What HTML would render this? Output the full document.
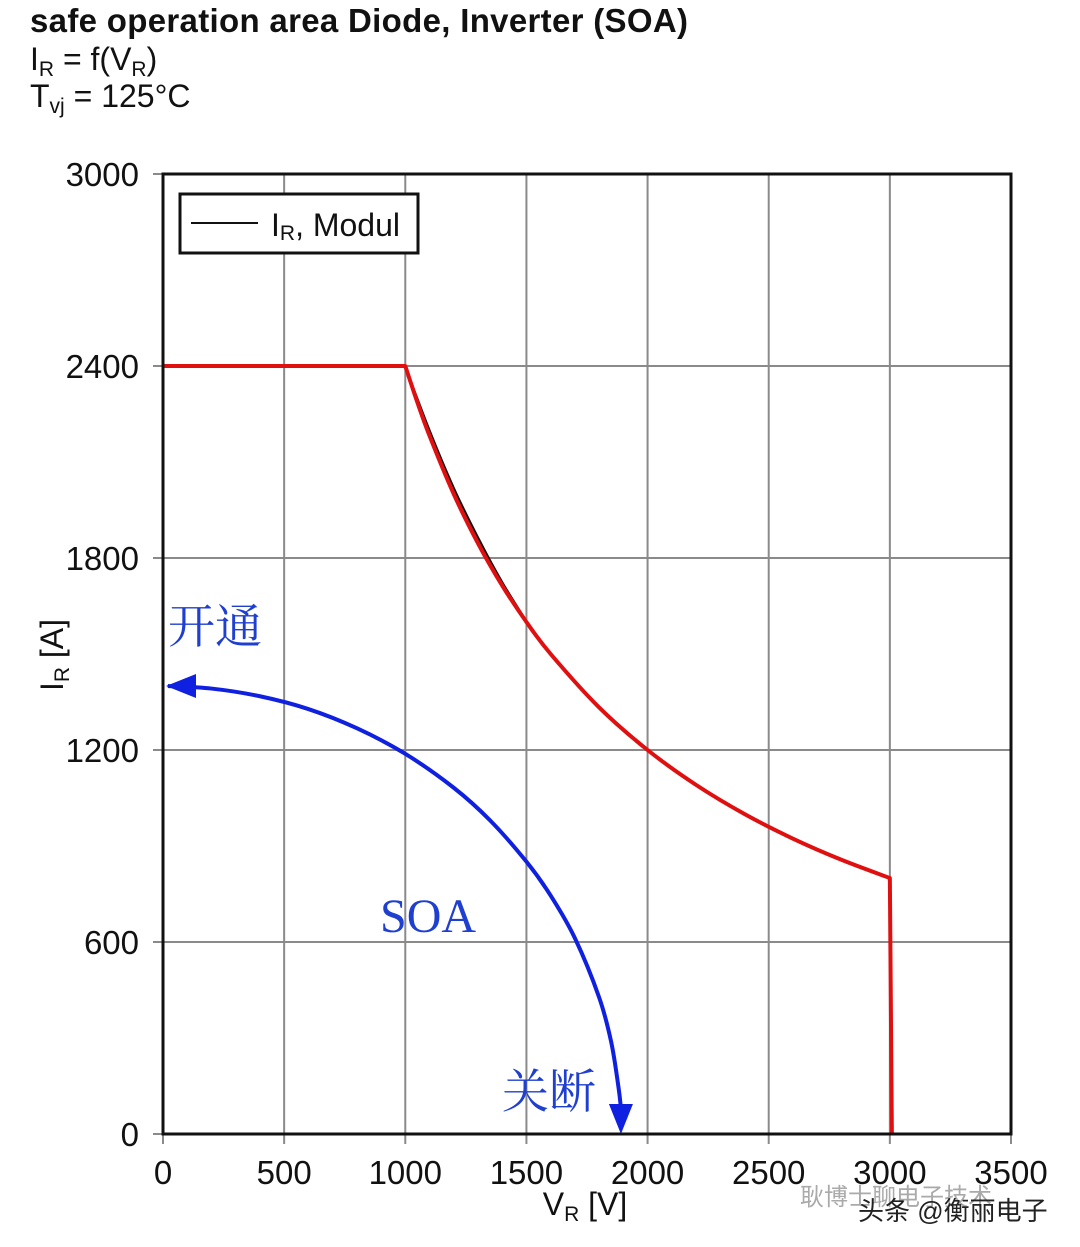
<!DOCTYPE html>
<html><head><meta charset="utf-8">
<style>
html,body{margin:0;padding:0;background:#fff;}
svg{display:block;}
.t{font-family:"Liberation Sans",Arial,sans-serif;fill:#111;}
.cn{font-family:"Liberation Serif","Noto Serif CJK SC",serif;fill:#1f3fd0;}
</style></head>
<body>
<svg id="chart" width="1080" height="1247" viewBox="0 0 1080 1247" xmlns="http://www.w3.org/2000/svg">
<text class="t" x="30" y="32" font-size="33" font-weight="bold" textLength="658">safe operation area Diode, Inverter (SOA)</text>
<text class="t" x="30" y="70" font-size="32">I<tspan font-size="21" dy="6">R</tspan><tspan dy="-6"> = f(V</tspan><tspan font-size="21" dy="6">R</tspan><tspan dy="-6">)</tspan></text>
<text class="t" x="30" y="107" font-size="32">T<tspan font-size="21" dy="6">vj</tspan><tspan dy="-6"> = 125°C</tspan></text>
<g id="grid"></g>
<g id="ticks"></g>
<g id="series"></g>
<rect x="163" y="174" width="848" height="960" fill="none" stroke="#111" stroke-width="3"/>
<g>
<rect x="180" y="194" width="238" height="59" fill="#fff" stroke="#111" stroke-width="3"/>
<line x1="191" y1="223" x2="258" y2="223" stroke="#111" stroke-width="2"/>
<text class="t" x="271" y="236" font-size="32">I<tspan font-size="21" dy="4">R</tspan><tspan dy="-4">, Modul</tspan></text>
</g>
<text class="t" transform="translate(63,655) rotate(-90)" text-anchor="middle" font-size="32">I<tspan font-size="21" dy="6">R</tspan><tspan dy="-6"> [A]</tspan></text>
<text class="t" x="585" y="1215" text-anchor="middle" font-size="32">V<tspan font-size="21" dy="6">R</tspan><tspan dy="-6"> [V]</tspan></text>
<text class="cn" x="168" y="643" font-size="47">开通</text>
<text class="cn" x="380" y="932" font-size="48">SOA</text>
<text class="cn" x="502" y="1108" font-size="47">关断</text>
<text x="800" y="1205" font-size="24" fill="#aaa" font-family="'Liberation Sans','Noto Sans CJK SC',sans-serif">耿博士聊电子技术</text>
<text x="858" y="1220" font-size="26" fill="#222" font-family="'Liberation Sans','Noto Sans CJK SC',sans-serif">头条 @衡丽电子</text>
</svg>
<script>
const xTicks=[0,500,1000,1500,2000,2500,3000,3500];
const yTicks=[0,600,1200,1800,2400,3000];
const redV=[0,1000,1050,1100,1200,1300,1400,1500,1600,1800,2000,2200,2400,2600,2800,3000,3000];
const redI=[2400,2400,2286,2182,2000,1846,1714,1600,1500,1333,1200,1091,1000,923,857,800,0];
const blackV=[1000,1100,1200,1300,1400,1500];
const blackI=[2400,2200,2020,1865,1725,1603];
const blueV=[1890,1880,1850,1800,1700,1600,1500,1350,1200,1000,800,600,400,200,20];
const blueI=[0,146,287,427,612,745,851,980,1082,1188,1268,1328,1368,1392,1400];
const NS="http://www.w3.org/2000/svg";
function xs(v){return 163+v*848/3500;}
function ys(i){return 1134-i*960/3000;}
function mk(tag,attrs,parent){const e=document.createElementNS(NS,tag);for(const k in attrs)e.setAttribute(k,attrs[k]);parent.appendChild(e);return e;}
const grid=document.getElementById('grid'),ticks=document.getElementById('ticks'),series=document.getElementById('series');
xTicks.forEach(v=>{
 const l=mk('line',{x1:xs(v),x2:xs(v),y1:174,y2:1144,stroke:'#8a8a8a','stroke-width':2},grid);
 
 
 const t=mk('text',{x:xs(v),y:1184,'text-anchor':'middle','font-size':33,class:'t'},ticks);
 t.textContent=v;
 
 
});
yTicks.forEach(i=>{
 const l=mk('line',{x1:153,x2:1011,y1:ys(i),y2:ys(i),stroke:'#8a8a8a','stroke-width':2},grid);
 
 
 const t=mk('text',{x:139,y:ys(i)+12,'text-anchor':'end','font-size':33,class:'t'},ticks);
 t.textContent=i;
 
 
});
// Catmull-Rom smoothed path between index a..b
function smooth(P){
 let d='M'+P[0][0]+','+P[0][1];
 for(let k=0;k<P.length-1;k++){
  const p0=P[Math.max(k-1,0)],p1=P[k],p2=P[k+1],p3=P[Math.min(k+2,P.length-1)];
  const c1=[p1[0]+(p2[0]-p0[0])/6,p1[1]+(p2[1]-p0[1])/6];
  const c2=[p2[0]-(p3[0]-p1[0])/6,p2[1]-(p3[1]-p1[1])/6];
  d+=' C'+c1[0]+','+c1[1]+' '+c2[0]+','+c2[1]+' '+p2[0]+','+p2[1];
 }
 return d;
}
function P(V,I){return V.map((v,k)=>[xs(v),ys(I[k])]);}
const blk=mk('path',{d:smooth(P(blackV,blackI)),fill:'none',stroke:'#111','stroke-width':2},series);


const rp=P(redV,redI);
const n=rp.length;
let rd='M'+rp[0][0]+','+rp[0][1]+' L'+rp[1][0]+','+rp[1][1]+' '+smooth(rp.slice(1,n-1)).replace(/^M[^ ]+/,'')+' L'+(rp[n-1][0]+2)+','+rp[n-1][1];
const red=mk('path',{d:rd,fill:'none',stroke:'#e01010','stroke-width':4,'stroke-linejoin':'round'},series);


const bp=P(blueV,blueI);
bp[0]=[bp[0][0],bp[0][1]-26];
const blue=mk('path',{d:smooth(bp),fill:'none',stroke:'#1020e0','stroke-width':4},series);


const bx=xs(blueV[0]),by=ys(blueI[0]);
const h1=mk('polygon',{points:(bx-12)+','+(by-30)+' '+(bx+12)+','+(by-30)+' '+bx+','+by,fill:'#1020e0'},series);


const lx=xs(0)+3,ly=ys(blueI[blueI.length-1]);
const h2=mk('polygon',{points:lx+','+ly+' '+(lx+30)+','+(ly-12)+' '+(lx+30)+','+(ly+12),fill:'#1020e0'},series);


</script>
</body></html>
